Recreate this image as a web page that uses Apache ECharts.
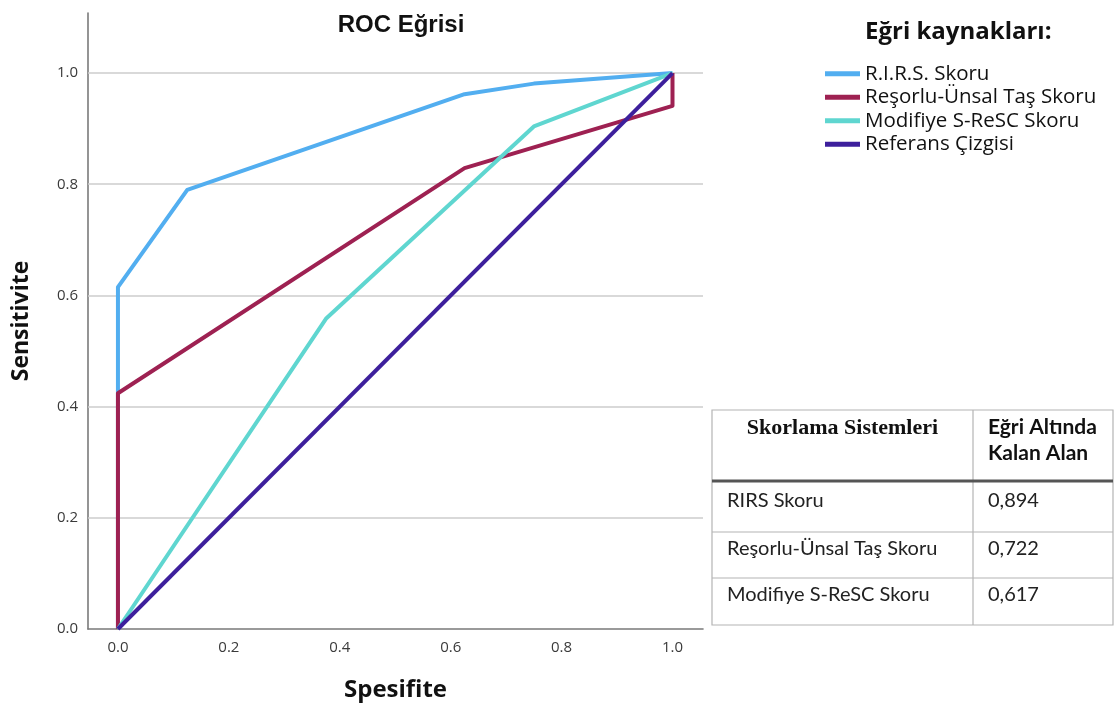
<!DOCTYPE html>
<html>
<head>
<meta charset="utf-8">
<script src="https://cdn.jsdelivr.net/npm/echarts@6/dist/echarts.min.js"></script>
<style>
  html, body { margin: 0; padding: 0; background: #fff; }
  #chart { width: 1116px; height: 709px; }
</style>
</head>
<body>
<div id="chart"></div>
<script>
// ROC curve coordinates (x = 1 - specificity, y = sensitivity)
const rirsX = [0, 0, 0.125, 0.625, 0.75, 1];
const rirsY = [0, 0.615, 0.79, 0.962, 0.981, 1];
const resorluX = [0, 0, 0.625, 1, 1];
const resorluY = [0, 0.424, 0.829, 0.941, 1];
const srescX = [0, 0.375, 0.75, 1];
const srescY = [0, 0.558, 0.904, 1];
const refX = [0, 1];
const refY = [0, 1];

const seriesNames = ['R.I.R.S. Skoru', 'Reşorlu-Ünsal Taş Skoru', 'Modifiye S-ReSC Skoru', 'Referans Çizgisi'];
const seriesColors = ['#52aef0', '#9e2152', '#5fd6d0', '#3d1f9c'];

const xTicks = [0, 0.2, 0.4, 0.6, 0.8, 1.0];
const yTicks = [0, 0.2, 0.4, 0.6, 0.8, 1.0];

// AUC summary table
const tableHeader = ['Skorlama Sistemleri', 'Eğri Altında', 'Kalan Alan'];
const tableNames = ['RIRS Skoru', 'Reşorlu-Ünsal Taş Skoru', 'Modifiye S-ReSC Skoru'];
const tableAuc = ['0,894', '0,722', '0,617'];

const zip = (xs, ys) => xs.map((x, i) => [x, ys[i]]);
const curves = [zip(rirsX, rirsY), zip(resorluX, resorluY), zip(srescX, srescY), zip(refX, refY)];

const chart = echarts.init(document.getElementById('chart'), null, { renderer: 'canvas' });

const tickFont = { fontFamily: 'Open Sans', fontSize: 15, color: '#3a3a3a' };

// table layout
const tL = 712, tR = 1113, tC = 973, tT = 410, tH = 481;
const rowBottoms = [532, 578, 625];
const rowTextY = [501, 549, 595];
const borderColor = '#b4b4b4';

const graphics = [];
graphics.push({
  type: 'text', left: 865, top: 20,
  style: { text: 'Eğri kaynakları:', font: 'bold 24px "Open Sans"', fill: '#111' }
});
graphics.push({
  type: 'rect', shape: { x: tL, y: tT, width: tR - tL, height: rowBottoms[2] - tT },
  style: { fill: '#fff', stroke: borderColor, lineWidth: 1.2 }, z: 10
});
graphics.push({
  type: 'line', shape: { x1: tC, y1: tT, x2: tC, y2: rowBottoms[2] },
  style: { stroke: borderColor, lineWidth: 1.2 }, z: 11
});
graphics.push({
  type: 'line', shape: { x1: tL, y1: tH, x2: tR, y2: tH },
  style: { stroke: '#555', lineWidth: 3 }, z: 12
});
rowBottoms.slice(0, 2).forEach(y => graphics.push({
  type: 'line', shape: { x1: tL, y1: y, x2: tR, y2: y },
  style: { stroke: borderColor, lineWidth: 1.2 }, z: 11
}));
graphics.push({
  type: 'text', x: (tL + tC) / 2, y: 428, z: 13,
  style: { text: tableHeader[0], font: 'bold 22px "Liberation Serif"', fill: '#111', align: 'center', verticalAlign: 'middle' }
});
graphics.push({
  type: 'text', x: 988, y: 427, z: 13,
  style: { text: tableHeader[1], font: 'bold 21px Lato', fill: '#111', verticalAlign: 'middle' }
});
graphics.push({
  type: 'text', x: 988, y: 453, z: 13,
  style: { text: tableHeader[2], font: 'bold 21px Lato', fill: '#111', verticalAlign: 'middle' }
});
tableNames.forEach((name, i) => {
  graphics.push({
    type: 'text', x: 727, y: rowTextY[i], z: 13,
    style: { text: name, font: '20px Lato', fill: '#222', verticalAlign: 'middle' }
  });
  graphics.push({
    type: 'text', x: 988, y: rowTextY[i], z: 13,
    style: { text: tableAuc[i], font: '20px Lato', fill: '#222', verticalAlign: 'middle' }
  });
});

const series = curves.map((data, i) => ({
  name: seriesNames[i],
  type: 'line',
  data: data,
  showSymbol: false,
  symbol: 'none',
  z: 3 + i,
  lineStyle: { color: seriesColors[i], width: 4, join: 'round' },
  itemStyle: { color: seriesColors[i] },
  animation: false
}));

// horizontal reference grid lines
series.unshift({
  name: 'grid',
  type: 'line',
  data: [],
  z: 1,
  animation: false,
  markLine: {
    silent: true,
    z: 1,
    symbol: 'none',
    animation: false,
    label: { show: false },
    lineStyle: { color: '#cdcdcd', width: 1.6, type: 'solid' },
    data: yTicks.filter(v => v > 0).map(v => ({ yAxis: v }))
  }
});

chart.setOption({
  backgroundColor: '#fff',
  animation: false,
  title: {
    text: 'ROC Eğrisi',
    left: 396, top: 8, textAlign: 'center',
    textStyle: { fontFamily: 'Liberation Sans', fontWeight: 'bold', fontSize: 24, color: '#111' }
  },
  legend: {
    data: seriesNames,
    orient: 'vertical',
    left: 820, top: 57,
    icon: 'rect',
    itemWidth: 35, itemHeight: 5,
    itemGap: 0,
    textStyle: { fontFamily: 'Open Sans', fontSize: 20.5, lineHeight: 23.5, color: '#111' }
  },
  grid: { left: 88, right: 413, top: 13, bottom: 80 },
  xAxis: {
    type: 'value',
    min: -0.054, max: 1.055,
    name: 'Spesifite',
    nameLocation: 'middle',
    nameGap: 49,
    nameTextStyle: { fontFamily: 'Open Sans', fontWeight: 'bold', fontSize: 24, color: '#111' },
    axisLine: { show: true, onZero: false, lineStyle: { color: '#7a7a7a', width: 1.6 } },
    axisTick: { show: false },
    splitLine: { show: false },
    axisLabel: Object.assign({ customValues: xTicks, margin: 11, formatter: v => v.toFixed(1) }, tickFont)
  },
  yAxis: {
    type: 'value',
    min: 0, max: 1.108,
    name: 'Sensitivite',
    nameLocation: 'middle',
    nameGap: 55,
    nameTextStyle: { fontFamily: 'Open Sans', fontWeight: 'bold', fontSize: 23, color: '#111' },
    axisLine: { show: true, onZero: false, lineStyle: { color: '#7a7a7a', width: 1.6 } },
    axisTick: { show: false },
    splitLine: { show: false },
    axisLabel: Object.assign({ customValues: yTicks, margin: 10, formatter: v => v.toFixed(1) }, tickFont)
  },
  graphic: graphics,
  series: series
});
</script>
</body>
</html>
